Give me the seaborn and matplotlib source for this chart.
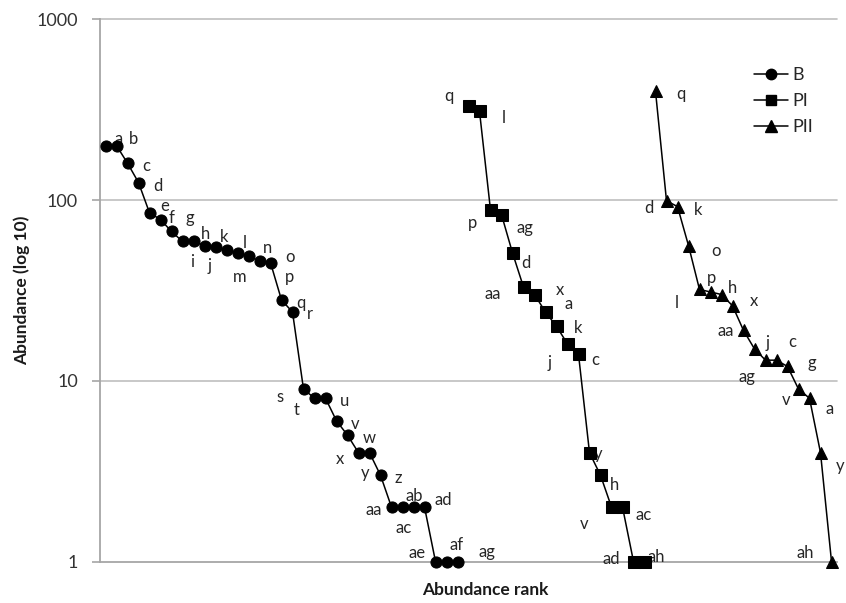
import matplotlib
matplotlib.use('Agg')
import matplotlib.pyplot as plt
import seaborn as sns
import pandas as pd
from matplotlib.lines import Line2D
from matplotlib.ticker import FixedLocator, NullLocator

# ---------------- data ----------------
b_values = [200, 200, 160, 125, 85, 78, 67, 59, 59, 56, 55, 53, 51, 49, 46, 45,
            28, 24, 9, 8, 8, 6, 5, 4, 4, 3, 2, 2, 2, 2, 1, 1, 1]
b_labels = ['a', 'b', 'c', 'd', 'e', 'f', 'g', 'h', 'i', 'j', 'k', 'l', 'm', 'n',
            'o', 'p', 'q', 'r', 's', 't', 'u', 'v', 'w', 'x', 'y', 'z', 'aa', 'ab',
            'ac', 'ad', 'ae', 'af', 'ag']
pi_values = [330, 310, 88, 83, 51, 33, 30, 24, 20, 16, 14, 4, 3, 2, 2, 1, 1]
pi_labels = ['q', 'l', 'p', 'ag', 'd', 'aa', 'x', 'a', 'k', 'j', 'c', 'y', 'h',
             'v', 'ac', 'ad', 'ah']
pii_values = [400, 99, 92, 56, 32, 31, 30, 26, 19, 15, 13, 13, 12, 9, 8, 4, 1]
pii_labels = ['q', 'd', 'k', 'o', 'p', 'l', 'h', 'x', 'aa', 'j', 'ag', 'c', 'g',
              'v', 'a', 'y', 'ah']
series_names = ['B', 'PI', 'PII']
y_ticks = [1, 10, 100, 1000]
y_tick_labels = ['1', '10', '100', '1000']

# label offsets in pixels (dx right, dy down) -- styling only
b_offsets = [(13, -8), (17, -8), (19, 2), (19, 2), (15, -8), (11, -3), (18, -14),
             (23, -8), (-1, 20), (5, 19), (9, -11), (18, -8), (2, 23), (19, -9),
             (30, -5), (19, 13), (19, 2), (17, 1), (-23, 7), (-18, 11), (19, 2),
             (19, 2), (22, 2), (-19, 5), (-4, 19), (18, 2), (-18, 2), (12, -12),
             (-10, 20), (19, -8), (-18, -9), (10, -17), (29, -10)]
pi_offsets = [(-20, -11), (24, 6), (-18, 12), (23, 12), (13, 9), (-31, 6), (25, -6),
              (23, -9), (22, 1), (-18, 18), (17, 5), (9, 0), (14, 9), (-27, 16),
              (21, 7), (-22, -4), (12, -5)]
pii_offsets = [(25, 2), (-18, 6), (21, 2), (28, 4), (12, -12), (-34, 10), (11, -8),
               (21, -6), (-18, 0), (13, -7), (-19, 16), (16, -19), (24, -4),
               (-12, 10), (20, 10), (20, 12), (-26, -9)]

# ---------------- table ----------------
all_values = [b_values, pi_values, pii_values]
all_labels = [b_labels, pi_labels, pii_labels]
all_offsets = [b_offsets, pi_offsets, pii_offsets]
rows = []
rank = 1
for name, vals, labs in zip(series_names, all_values, all_labels):
    for v, l in zip(vals, labs):
        rows.append({'rank': rank, 'abundance': v, 'series': name, 'label': l})
        rank += 1
df = pd.DataFrame(rows)
n_ranks = rank - 1

# ---------------- style ----------------
sns.set_theme(style='white')
plt.rcParams['font.family'] = ['Lato', 'DejaVu Sans']

fig = plt.figure(figsize=(8.46, 6.03), dpi=100)
ax = fig.add_axes([100 / 846, 1 - 561.5 / 603, 737 / 846, (561.5 - 19.3) / 603])

markers = {'B': 'o', 'PI': 's', 'PII': '^'}
msizes = {'B': 8.0, 'PI': 8.0, 'PII': 8.5}
for name in series_names:
    sub = df[df['series'] == name]
    sns.lineplot(data=sub, x='rank', y='abundance', ax=ax, color='black',
                 marker=markers[name], markersize=msizes[name],
                 markeredgecolor='black', markerfacecolor='black',
                 linewidth=1.1, legend=False, sort=False)
for ln in ax.lines:
    ln.set_clip_on(False)
    ln.set_zorder(5)

ax.set_yscale('log')
ax.set_ylim(1, 1000)
ax.set_xlim(0.5, n_ranks + 0.5)
ax.yaxis.set_major_locator(FixedLocator(y_ticks))
ax.yaxis.set_minor_locator(NullLocator())
ax.set_yticks(y_ticks)
ax.set_yticklabels(y_tick_labels)
ax.set_xticks([])

grid_c = '#bfbfbf'
axis_c = '#a6a6a6'
for y in y_ticks[1:]:
    ax.axhline(y, color=grid_c, linewidth=1.2, zorder=0, clip_on=False)
for s in ['top', 'right']:
    ax.spines[s].set_visible(False)
ax.spines['left'].set_color(axis_c)
ax.spines['left'].set_linewidth(1.3)
ax.spines['bottom'].set_color(axis_c)
ax.spines['bottom'].set_linewidth(1.3)
ax.tick_params(axis='y', which='major', direction='out', length=6, width=1.2,
               color=axis_c, labelsize=13, labelcolor='#333333', pad=10, left=True)

# data labels
for (_, r), off in zip(df.iterrows(), [o for offs in all_offsets for o in offs]):
    ax.annotate(r['label'], (r['rank'], r['abundance']),
                xytext=(off[0], -off[1] - 1), textcoords='offset pixels',
                ha='center', va='center', fontsize=12, color='#262626',
                annotation_clip=False)

ax.set_xlabel('')
ax.set_ylabel('')
fig.text(485 / 846, 1 - 590 / 603, 'Abundance rank', ha='center', va='center',
         fontsize=12.5, fontweight='bold', color='#1a1a1a')
fig.text(22 / 846, 1 - 290 / 603, 'Abundance (log 10)', ha='center', va='center',
         rotation=90, fontsize=12.5, fontweight='bold', color='#1a1a1a')

# legend
handles = [Line2D([0], [0], color='black', linewidth=1.1, marker=markers[n],
                  markersize=msizes[n] - 0.5, markerfacecolor='black',
                  markeredgecolor='black') for n in series_names]
leg = ax.legend(handles, series_names, loc='upper left',
                bbox_to_anchor=(745 / 846, 1 - 58 / 603),
                bbox_transform=fig.transFigure, frameon=False,
                fontsize=13, handlelength=1.9, handletextpad=0.25,
                labelspacing=0.55, borderpad=0)
for t in leg.get_texts():
    t.set_color('#262626')

fig.savefig('out.png', dpi=100)
